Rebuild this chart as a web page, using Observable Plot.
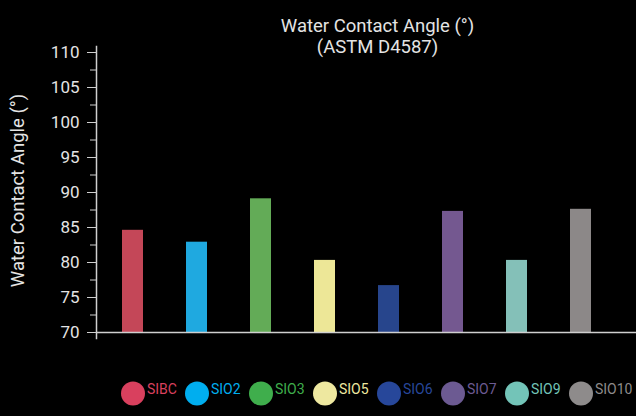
<!DOCTYPE html>
<html>
<head>
<meta charset="utf-8">
<script src="https://cdn.jsdelivr.net/npm/d3@7"></script>
<script src="https://cdn.jsdelivr.net/npm/@observablehq/plot@0.6"></script>
<style>
  html, body { margin: 0; padding: 0; background: #000; }
</style>
</head>
<body>
<div id="chart"></div>
<script>
const categories = ["SIBC", "SIO2", "SIO3", "SIO5", "SIO6", "SIO7", "SIO9", "SIO10"];
const values = [84.6, 82.9, 89.1, 80.3, 76.7, 87.3, 80.3, 87.6];
const barColors = ["#c44758", "#1fa9e0", "#63ab57", "#ede797", "#27458c", "#745890", "#84c0b8", "#8c8888"];
const legendColors = ["#d9405e", "#00aeef", "#3fae4c", "#eee8a0", "#27479a", "#6c5a92", "#73c4b8", "#8e8b8b"];
const yTicks = [70, 75, 80, 85, 90, 95, 100, 105, 110];
const yMinorTicks = [72.5, 77.5, 82.5, 87.5, 92.5, 97.5, 102.5, 107.5];
const title = "Water Contact Angle (°)\n(ASTM D4587)";
const yLabel = "Water Contact Angle (°)";

const rows = categories.map((c, i) => ({name: c, value: values[i], color: barColors[i], legend: legendColors[i]}));
const yMin = yTicks[0], yMax = yTicks[yTicks.length - 1];
const axisColor = "#cfcfcf";
const textColor = "#e4e4e4";

const chart = Plot.plot({
  width: 636,
  height: 416,
  marginLeft: 96,
  marginRight: 0,
  marginTop: 46,
  marginBottom: 78,
  style: {background: "#000", color: textColor, fontFamily: "Roboto, sans-serif"},
  x: {domain: categories, range: [98, 615], paddingInner: 0.672, paddingOuter: 0.352, axis: null},
  y: {domain: [yMin, yMax], range: [332, 52], axis: null},
  color: {type: "identity"},
  marks: [
    Plot.barY(rows, {x: "name", y1: yMin, y2: "value", fill: "color"}),
    Plot.frame({anchor: "left", stroke: axisColor, strokeWidth: 1.5}),
    Plot.ruleY([yMin], {stroke: axisColor, strokeWidth: 1.5}),
    Plot.axisY({ticks: yTicks, tickSize: 9, tickPadding: 8, fontSize: 17, label: null, stroke: axisColor, fill: textColor}),
    Plot.axisY({ticks: yMinorTicks, tickSize: 6, tickFormat: () => "", label: null, stroke: axisColor}),
    Plot.dot(rows, {x: "name", frameAnchor: "bottom", dy: 55, r: 12, fill: "legend"}),
    Plot.text(rows, {x: "name", text: "name", frameAnchor: "bottom", dy: 55, dx: 14, textAnchor: "start", fill: "legend", fontSize: 14}),
    Plot.text([title], {frameAnchor: "top", lineAnchor: "middle", dx: 11, dy: -11, fontSize: 18.5, lineHeight: 1.17, fill: textColor}),
    Plot.text([yLabel], {frameAnchor: "left", textAnchor: "middle", rotate: -90, dx: -78, dy: -2, fontSize: 18.5, fill: textColor})
  ]
});
document.getElementById("chart").appendChild(chart);
</script>
</body>
</html>
